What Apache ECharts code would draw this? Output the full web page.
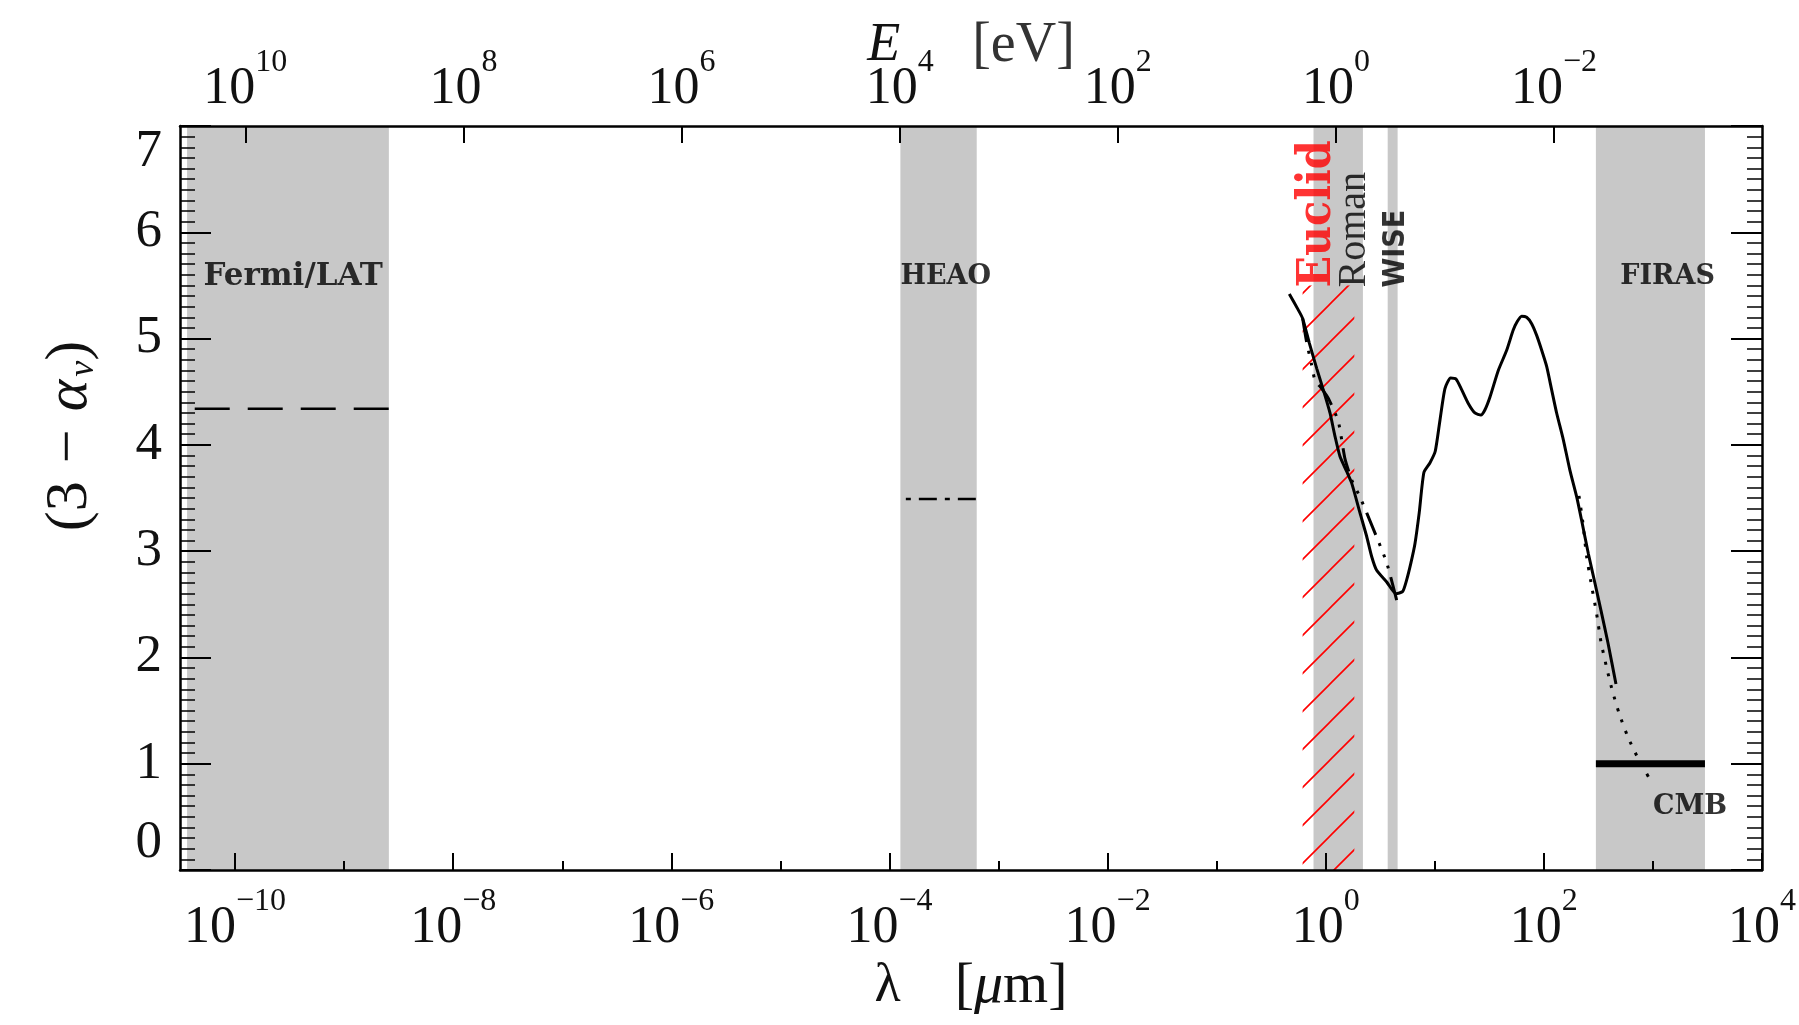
<!DOCTYPE html>
<html>
<head>
<meta charset="utf-8">
<title>EBL spectral index</title>
<script src="https://cdn.jsdelivr.net/npm/echarts@6/dist/echarts.min.js"></script>
<style>
html, body { margin: 0; padding: 0; background: #fff; }
#chart { width: 1799px; height: 1025px; }
</style>
</head>
<body>
<div id="chart"></div>
<script>
// x is log10(lambda / micron), y is (3 - alpha_nu)
var xMin = -10.505, xMax = 4;
var hc = Math.log10(1.23984);   // E[eV] = 1.23984 / lambda[um]

var lamMajor = [-10, -8, -6, -4, -2, 0, 2, 4];
var lamMinor = [-9, -7, -5, -3, -1, 1, 3];
var eMajor = [10, 8, 6, 4, 2, 0, -2];

// instrument bands [from, to] in log10(lambda)
var bandRanges = [[-10.44, -8.59], [-3.90, -3.20], [-0.112, 0.341], [0.568, 0.659], [2.477, 3.477]];
var euclidRange = [-0.212, 0.262];
var euclidTop = 5.5;

var fermiLine = [[-10.37, 4.34], [-8.59, 4.34]];
var heaoLine = [[-3.85, 3.49], [-3.20, 3.49]];
var cmbLine = [[2.477, 1.0], [3.477, 1.0]];

var eblCurve = [[-0.334, 5.42], [-0.252, 5.27], [-0.212, 5.19], [-0.151, 4.96], [-0.083, 4.72],
  [-0.023, 4.52], [0.039, 4.30], [0.085, 4.08], [0.131, 3.89], [0.192, 3.75], [0.238, 3.64],
  [0.314, 3.36], [0.375, 3.14], [0.421, 2.95], [0.467, 2.82], [0.559, 2.71], [0.644, 2.60],
  [0.705, 2.62], [0.742, 2.73], [0.781, 2.89], [0.818, 3.07], [0.857, 3.36], [0.900, 3.74],
  [0.955, 3.83], [1.004, 3.94], [1.047, 4.23], [1.093, 4.53], [1.145, 4.63], [1.194, 4.62],
  [1.246, 4.52], [1.307, 4.39], [1.368, 4.30], [1.423, 4.28], [1.460, 4.33], [1.506, 4.45],
  [1.582, 4.70], [1.659, 4.89], [1.719, 5.08], [1.756, 5.16], [1.796, 5.21], [1.842, 5.20],
  [1.888, 5.14], [1.934, 5.03], [1.980, 4.89], [2.025, 4.74], [2.071, 4.52], [2.117, 4.30],
  [2.178, 4.05], [2.239, 3.76], [2.301, 3.51], [2.346, 3.29], [2.407, 2.98], [2.468, 2.70],
  [2.524, 2.44], [2.587, 2.14], [2.661, 1.75]];

var nirModel = [[-0.212, 5.19], [-0.176, 4.97], [-0.129, 4.75], [-0.099, 4.61], [-0.037, 4.53],
  [0.023, 4.44], [0.115, 4.22], [0.176, 3.87], [0.238, 3.67], [0.314, 3.51], [0.436, 3.21],
  [0.559, 2.89], [0.650, 2.54]];

var firModel = [[2.322, 3.52], [2.355, 3.29], [2.392, 2.95], [2.440, 2.66], [2.484, 2.41],
  [2.523, 2.15], [2.572, 1.92], [2.627, 1.69], [2.691, 1.47], [2.771, 1.25], [2.869, 1.04],
  [2.991, 0.82]];

var labelText = ['Fermi/LAT', 'HEAO', 'FIRAS', 'CMB'];
var labelPos = [[-10.29, 5.58], [-3.90, 5.58], [2.70, 5.58], [3.00, 0.59]];
var vertText = ['Euclid', 'Roman', 'WISE'];
var vertPos = [[-0.075, 5.48], [0.262, 5.48], [0.645, 5.48]];

var serif = 'Liberation Serif';

function hatch() {
  var s = 38, c = document.createElement('canvas');
  c.width = s; c.height = s;
  var g = c.getContext('2d');
  g.strokeStyle = '#ff0000';
  g.lineWidth = 1.6;
  g.beginPath();
  for (var k = -1; k <= 1; k++) {
    g.moveTo(-2, s + k * s + 2);
    g.lineTo(s + 2, k * s - 2);
  }
  g.stroke();
  return c;
}

function pow10(v) {
  var e = v < 0 ? '\u2212' + (-v) : '' + v;
  return '{b|10}{s|' + e + '}';
}
var powRich = {
  b: { fontFamily: serif, fontSize: 52, lineHeight: 68, verticalAlign: 'bottom', color: '#111' },
  s: { fontFamily: serif, fontSize: 32, lineHeight: 32, verticalAlign: 'top', color: '#111' }
};

var frame = { show: true, onZero: false, lineStyle: { color: '#000', width: 2.5 } };
var tickStyle = { color: '#000', width: 2 };

var chart = echarts.init(document.getElementById('chart'));

var option = {
  animation: false,
  backgroundColor: '#fff',
  grid: { left: 180, right: 37, top: 126, bottom: 155, outerBoundsMode: 'none' },
  xAxis: [
    {
      type: 'value', position: 'bottom', min: xMin, max: xMax, z: 3,
      axisLine: frame,
      axisTick: { show: true, inside: true, length: 17, customValues: lamMajor, lineStyle: tickStyle },
      axisLabel: { show: true, customValues: lamMajor, margin: 16, formatter: pow10, rich: powRich },
      splitLine: { show: false },
      name: '{l|\u03bb}{t|[}{i|\u03bc}{t|m]}',
      nameLocation: 'middle', nameGap: 88, nameMoveOverlap: false,
      nameTextStyle: {
        rich: {
          l: { fontFamily: serif, fontSize: 54, color: '#111', padding: [0, 54, 0, 0] },
          t: { fontFamily: serif, fontSize: 58, color: '#111' },
          i: { fontFamily: serif, fontSize: 58, fontStyle: 'italic', color: '#111' }
        }
      }
    },
    {
      type: 'value', position: 'bottom', min: xMin, max: xMax, z: 3,
      axisLine: { show: false, onZero: false },
      axisTick: { show: true, inside: true, length: 9, customValues: lamMinor, lineStyle: tickStyle },
      axisLabel: { show: false },
      splitLine: { show: false }
    },
    {
      type: 'value', position: 'top', min: hc - xMax, max: hc - xMin, inverse: true, z: 3,
      axisLine: frame,
      axisTick: { show: true, inside: true, length: 17, customValues: eMajor, lineStyle: tickStyle },
      axisLabel: { show: true, customValues: eMajor, margin: 11, formatter: pow10, rich: powRich },
      splitLine: { show: false },
      name: '{i|E}{t|[eV]}',
      nameLocation: 'middle', nameGap: 52, nameMoveOverlap: false,
      nameTextStyle: {
        rich: {
          i: { fontFamily: serif, fontSize: 54, fontStyle: 'italic', color: '#111', padding: [0, 72, 0, 0] },
          t: { fontFamily: serif, fontSize: 56, color: '#333' }
        }
      }
    }
  ],
  yAxis: [
    {
      type: 'value', position: 'left', min: 0, max: 7, interval: 1, z: 3,
      axisLine: frame,
      axisTick: { show: true, inside: true, length: 31, lineStyle: tickStyle },
      minorTick: { show: true, splitNumber: 10, length: 15, lineStyle: { color: '#000', width: 1.5 } },
      axisLabel: {
        margin: 18, fontFamily: serif, fontSize: 53, color: '#111',
        verticalAlignMinLabel: 'bottom', verticalAlignMaxLabel: 'top'
      },
      splitLine: { show: false },
      name: '{p|(3}{m|\u2212}{a|\u03b1}{n|\u03bd}{p|)}',
      nameLocation: 'middle', nameRotate: 90, nameGap: 78, nameMoveOverlap: false,
      nameTextStyle: {
        fontFamily: serif, fontSize: 60, color: '#111', padding: [0, 0, 0, 124],
        rich: {
          p: { fontFamily: serif, fontSize: 60, color: '#111', lineHeight: 64 },
          m: { fontFamily: serif, fontSize: 60, color: '#111', lineHeight: 64, padding: [0, 18, 0, 18] },
          a: { fontFamily: serif, fontSize: 60, fontStyle: 'italic', color: '#111', lineHeight: 64, padding: [0, 3, 0, 0] },
          n: { fontFamily: serif, fontSize: 36, fontStyle: 'italic', color: '#111', verticalAlign: 'bottom', lineHeight: 36 }
        }
      }
    },
    {
      type: 'value', position: 'right', min: 0, max: 7, interval: 1, z: 3,
      axisLine: frame,
      axisTick: { show: true, inside: true, length: 31, lineStyle: tickStyle },
      minorTick: { show: true, splitNumber: 10, length: 15, lineStyle: { color: '#000', width: 1.5 } },
      axisLabel: { show: false },
      splitLine: { show: false }
    }
  ],
  series: [
    {
      type: 'line', name: 'bands', data: [], z: 1, silent: true,
      markArea: {
        silent: true,
        itemStyle: { color: '#c8c8c8' },
        data: bandRanges.map(function (r) { return [{ xAxis: r[0], yAxis: 0 }, { xAxis: r[1], yAxis: 7 }]; })
      }
    },
    {
      type: 'line', name: 'Euclid', data: [], z: 2, silent: true,
      markArea: {
        silent: true,
        itemStyle: { color: { image: hatch(), repeat: 'repeat' } },
        data: [[{ xAxis: euclidRange[0], yAxis: 0 }, { xAxis: euclidRange[1], yAxis: euclidTop }]]
      }
    },
    {
      type: 'line', name: 'Fermi/LAT', data: fermiLine, showSymbol: false, z: 4,
      lineStyle: { color: '#000', width: 2.5, type: [35, 18] }
    },
    {
      type: 'line', name: 'HEAO', data: heaoLine, showSymbol: false, z: 4,
      lineStyle: { color: '#000', width: 2.5, type: [5, 8, 18, 8] }
    },
    {
      type: 'line', name: 'CMB', data: cmbLine, showSymbol: false, z: 4,
      lineStyle: { color: '#000', width: 7 }
    },
    {
      type: 'line', name: 'EBL', data: eblCurve, showSymbol: false, z: 4, smooth: 0.2,
      lineStyle: { color: '#000', width: 3 }
    },
    {
      type: 'line', name: 'NIR model', data: nirModel, showSymbol: false, z: 4, smooth: 0.2,
      lineStyle: { color: '#000', width: 3, type: [24, 9, 3, 9, 3, 9, 3, 9] }
    },
    {
      type: 'line', name: 'FIR model', data: firModel, showSymbol: false, z: 4, smooth: 0.2,
      lineStyle: { color: '#000', width: 3, type: [3, 9] }
    },
    {
      type: 'scatter', name: 'labels', symbolSize: 0, z: 5, silent: true,
      data: labelText.map(function (t, i) {
        return { name: t, value: labelPos[i], label: { fontSize: i === 0 ? 31 : 27 } };
      }),
      label: {
        show: true, formatter: '{b}', position: 'right', distance: 0,
        fontFamily: 'DejaVu Serif', fontWeight: 'bold', color: '#000'
      }
    },
    {
      type: 'scatter', name: 'vertical labels', symbolSize: 0, z: 5, silent: true,
      data: [
        { name: vertText[0], value: vertPos[0], label: { color: '#ff0000', fontFamily: 'DejaVu Serif Condensed', fontWeight: 'bold', fontSize: 46 } },
        { name: vertText[1], value: vertPos[1], label: { color: '#000', fontFamily: serif, fontSize: 40 } },
        { name: vertText[2], value: vertPos[2], label: { color: '#000', fontFamily: 'DejaVu Sans Condensed', fontWeight: 'bold', fontSize: 30 } }
      ],
      label: {
        show: true, formatter: '{b}', position: [0, 0], rotate: 90,
        align: 'left', verticalAlign: 'middle'
      }
    }
  ]
};

chart.setOption(option);
</script>
</body>
</html>
